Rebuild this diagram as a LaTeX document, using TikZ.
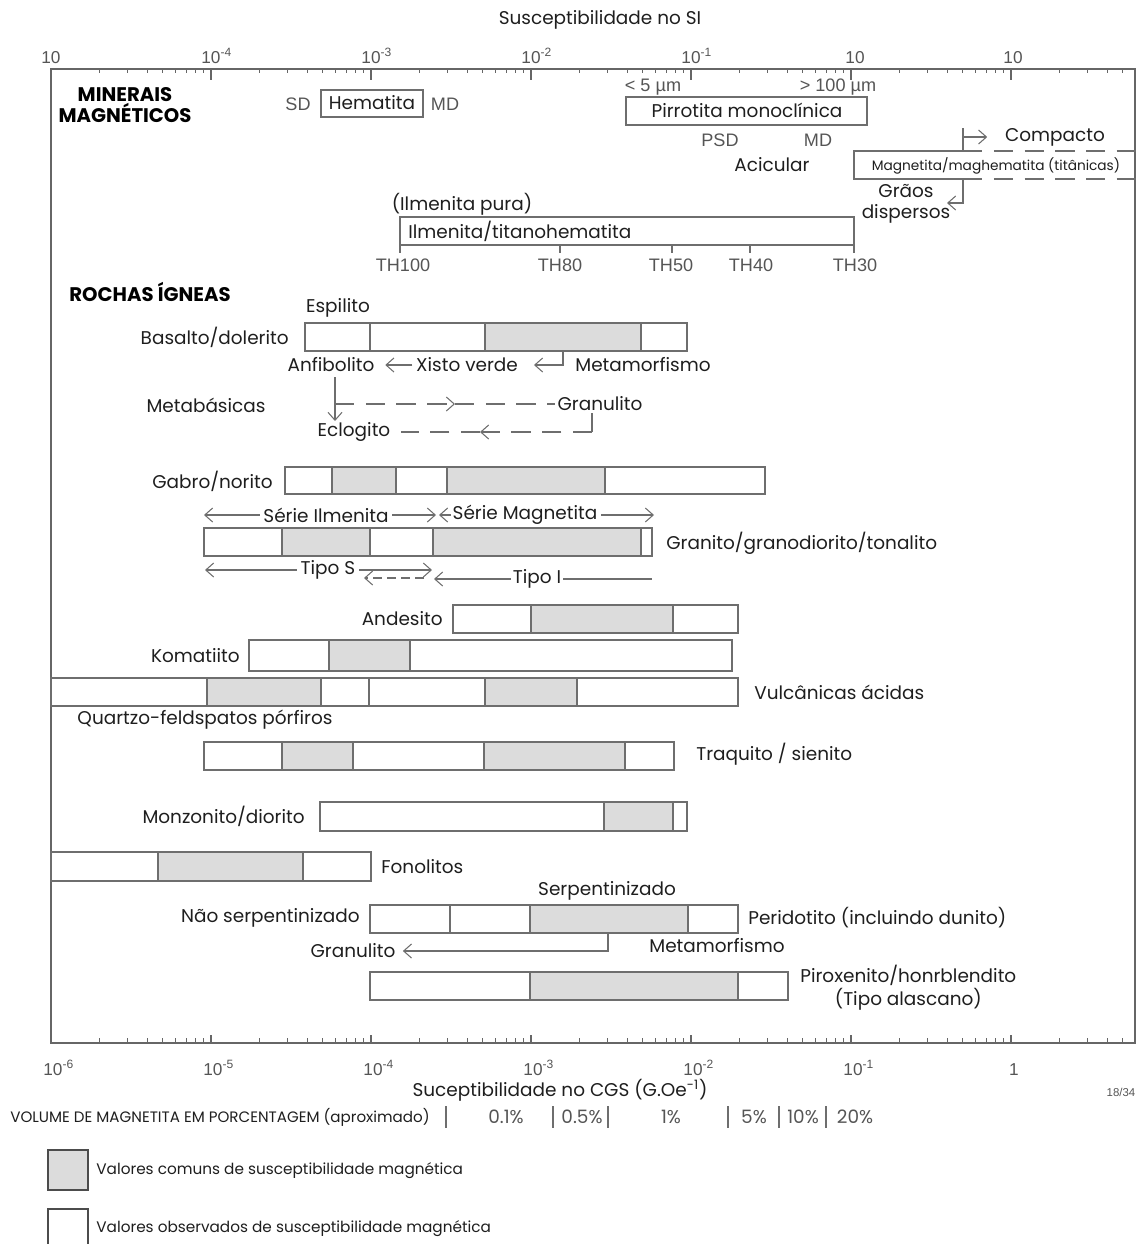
\documentclass[tikz,border=0pt]{standalone}
\usepackage{fontspec}
\setmainfont{Poppins}
\newfontfamily\helv{Liberation Sans}
\usetikzlibrary{arrows.meta, positioning}
\definecolor{ink}{HTML}{1E1E1E}
\definecolor{inkgray}{HTML}{555555}
\definecolor{barline}{HTML}{6E6E6E}
\definecolor{barfill}{HTML}{DCDCDC}

\begin{document}
\begin{tikzpicture}[x=0.02cm, y=-0.02cm,
  lbl/.style={font=\fontsize{10.5}{13}\selectfont, text=ink, inner sep=0pt},
  small/.style={font=\fontsize{7.8}{9}\selectfont, text=ink, inner sep=0pt},
  head/.style={font=\bfseries\fontsize{11.2}{11.5}\selectfont, text=black,
    align=center, inner sep=0pt},
  hv/.style={font=\helv\fontsize{10.3}{12}\selectfont, text=inkgray, inner sep=0pt},
  tick/.style={font=\helv\fontsize{9.8}{11}\selectfont, text=inkgray, inner sep=0pt},
  frame/.style={draw=black!60, line width=0.7pt},
  bar/.style={draw=barline, line width=0.6pt},
  common/.style={fill=barfill},
  conn/.style={draw=barline, line width=0.6pt},
  arr/.style={conn, -{Straight Barb[length=4.5pt, width=8pt]}},
  dline/.style={conn, dash pattern=on 11pt off 6.5pt},
  dshort/.style={conn, dash pattern=on 5pt off 3pt}
]
  \useasboundingbox (0,0) rectangle (1143,1244);

  % Axes
  \node[lbl] (si) at (600,20) {Susceptibilidade no SI};
  \draw[frame] (51,1043) -- (51,69) -- (1135,69) -- (1135,1043) -- cycle;
  \foreach \d in {0,...,5}{
    \draw[frame] (51+160*\d,69) -- ++(0,11);
    \draw[frame] (51+160*\d,1043) -- ++(0,-8);
    \foreach \k in {2,...,9}{
      \draw[frame] ({51+160*\d+160*log10(\k)},69) -- ++(0,4);
      \draw[frame] ({51+160*\d+160*log10(\k)},1043) -- ++(0,-5);
    }
  }
  \draw[frame] (1011,69) -- ++(0,11);
  \draw[frame] (1011,1043) -- ++(0,-8);
  \foreach \k in {2,...,6}{
    \draw[frame] ({1011+160*log10(\k)},69) -- ++(0,4);
    \draw[frame] ({1011+160*log10(\k)},1043) -- ++(0,-5);
  }
  \node[tick, anchor=base] (si0) at (51,63) {10};
  \node[tick, anchor=base] (si1) at (211,63) {10\rlap{\textsuperscript{-4}}};
  \node[tick, anchor=base] (si2) at (371,63) {10\rlap{\textsuperscript{-3}}};
  \node[tick, anchor=base] (si3) at (531,63) {10\rlap{\textsuperscript{-2}}};
  \node[tick, anchor=base] (si4) at (691,63) {10\rlap{\textsuperscript{-1}}};
  \node[tick, anchor=base] (si5) at (855,63) {10};
  \node[tick, anchor=base] (si6) at (1013,63) {10};
  \node[tick, anchor=base] (cgs0) at (53,1075) {10\rlap{\textsuperscript{-6}}};
  \node[tick, anchor=base] (cgs1) at (213,1075) {10\rlap{\textsuperscript{-5}}};
  \node[tick, anchor=base] (cgs2) at (373,1075) {10\rlap{\textsuperscript{-4}}};
  \node[tick, anchor=base] (cgs3) at (533,1075) {10\rlap{\textsuperscript{-3}}};
  \node[tick, anchor=base] (cgs4) at (693,1075) {10\rlap{\textsuperscript{-2}}};
  \node[tick, anchor=base] (cgs5) at (853,1075) {10\rlap{\textsuperscript{-1}}};
  \node[tick, anchor=base] (cgs6) at (1014,1075) {1};
  \node[lbl] (cgs) at (560,1090) {Suceptibilidade no CGS (G.Oe\textsuperscript{-1})};
  \node[tick, font=\helv\fontsize{6.5}{8}\selectfont] (page) at (1121,1092) {18/34};

  % Minerais magneticos
  \node[head] (minerais) at (125,105) {MINERAIS\\MAGNÉTICOS};
  \draw[bar] (321,90) rectangle (423,117);
  \node[lbl] (hem) at (372,103) {Hematita};
  \node[hv] (hsd) at (298,104) {SD};
  \node[hv] (hmd) at (445,104) {MD};

  \node[hv] (p5) at (653,87) {< 5 µm};
  \node[hv] (p100) at (838,87) {> 100 µm};
  \draw[bar] (626,97) rectangle (867,125);
  \node[lbl] (pirr) at (747,110) {Pirrotita monoclínica};
  \node[hv] (psd) at (720,140) {PSD};
  \node[hv] (pmd) at (818,140) {MD};
  \node[lbl] (acic) at (772,165) {Acicular};

  \draw[bar] (963,151) -- (854,151) -- (854,179) -- (963,179);
  \draw[dline] (963,151) -- (1143,151);
  \draw[dline] (963,179) -- (1143,179);
  \node[small] (magn) at (996,166) {Magnetita/maghematita (titânicas)};
  \node[lbl] (compacto) at (1055,137) {Compacto};
  \coordinate (cpbot) at (963,151);
  \coordinate (cptop) at (963,128);
  \coordinate (cpmid) at (963,137);
  \draw[conn] (cpbot) -- (cptop);
  \draw[arr] (cpmid) -- ([xshift=-10pt]compacto.west);
  \node[lbl] (graos) at (906,191) {Grãos};
  \node[lbl] (dispersos) at (906,214) {dispersos};
  \coordinate (gdtop) at (963,179);
  \coordinate (gdend) at (947,203);
  \draw[arr] (gdtop) |- (gdend);

  \node[lbl] (ilmp) at (462,204) {(Ilmenita pura)};
  \draw[bar] (400,217) rectangle (854,245);
  \node[lbl, anchor=west] (ilm) at (408,231) {Ilmenita/titanohematita};
  \foreach \x in {400,560,672,750,854}
    \draw[conn] (\x,245) -- (\x,253);
  \node[hv] (th100) at (403,265) {TH100};
  \node[hv] (th80) at (560,265) {TH80};
  \node[hv] (th50) at (671,265) {TH50};
  \node[hv] (th40) at (751,265) {TH40};
  \node[hv] (th30) at (855,265) {TH30};

  % Rochas igneas
  \node[head] (rochas) at (150,292) {ROCHAS ÍGNEAS};

  % Basalto/dolerito
  \fill[common] (485,323) rectangle (641,351);
  \draw[bar] (305,323) rectangle (687,351);
  \foreach \x in {370,485,641} \draw[bar] (\x,323) -- (\x,351);
  \node[lbl] (espilito) at (338,308) {Espilito};
  \node[lbl, anchor=east] (basalto) at (289,337) {Basalto/dolerito};
  \node[lbl] (anfib) at (331,365) {Anfibolito};
  \node[lbl] (xisto) at (467,365) {Xisto verde};
  \node[lbl] (meta1) at (643,365) {Metamorfismo};
  \coordinate (bmeta) at (563,351);
  \draw[arr] (bmeta) |- ([xshift=9pt]xisto.east);
  \draw[arr] ([xshift=-2pt]xisto.west) -- ([xshift=6pt]anfib.east);
  \node[lbl] (metab) at (206,405) {Metabásicas};
  \node[lbl] (granul1) at (600,404) {Granulito};
  \node[lbl] (eclog) at (354,432) {Eclogito};
  \coordinate (anfdown) at (335,377);
  \coordinate (anfmid) at (335,404);
  \coordinate (anfarr) at (455,404);
  \draw[arr] (anfdown) -- (335,421);
  \draw[dline, arr] (anfmid) -- (anfarr);
  \draw[dline] (anfarr) -- ([xshift=-1pt]granul1.west);
  \coordinate (grtop) at (592,413);
  \coordinate (grbot) at (592,432);
  \coordinate (grarr) at (480,432);
  \draw[conn] (grtop) -- (grbot);
  \draw[dline, arr] (grbot) -- (grarr);
  \draw[dline] (grarr) -- ([xshift=6pt]eclog.east);

  % Gabro/norito
  \fill[common] (332,467) rectangle (396,494);
  \fill[common] (447,467) rectangle (605,494);
  \draw[bar] (285,467) rectangle (765,494);
  \foreach \x in {332,396,447,605} \draw[bar] (\x,467) -- (\x,494);
  \node[lbl, anchor=east] (gabro) at (273,481) {Gabro/norito};

  % Granito/granodiorito/tonalito
  \node[lbl] (silm) at (326,515) {Série Ilmenita};
  \node[lbl] (smag) at (525,515) {Série Magnetita};
  \draw[arr] ([xshift=-2pt]silm.west) -- (204,515);
  \draw[arr] ([xshift=2pt]silm.east) -- (436,515);
  \draw[arr] ([xshift=-1pt]smag.west) -- (439,515);
  \draw[arr] ([xshift=2pt]smag.east) -- (654,515);
  \fill[common] (282,528) rectangle (370,556);
  \fill[common] (433,528) rectangle (641,556);
  \draw[bar] (204,528) rectangle (652,556);
  \foreach \x in {282,370,433,641} \draw[bar] (\x,528) -- (\x,556);
  \node[lbl, anchor=west] (granito) at (666,543) {Granito/granodiorito/tonalito};
  \node[lbl] (tipos) at (328,570) {Tipo S};
  \node[lbl] (tipoi) at (537,579) {Tipo I};
  \draw[arr] ([xshift=-2pt]tipos.west) -- (205,570);
  \draw[arr] ([xshift=2pt]tipos.east) -- (432,570);
  \coordinate (tsdash) at (424,578);
  \draw[dshort, arr] (tsdash) -- (364,578);
  \draw[arr] ([xshift=-1pt]tipoi.west) -- (434,579);
  \draw[conn] ([xshift=1pt]tipoi.east) -- (652,579);

  % Andesito
  \fill[common] (531,605) rectangle (673,633);
  \draw[bar] (453,605) rectangle (738,633);
  \foreach \x in {531,673} \draw[bar] (\x,605) -- (\x,633);
  \node[lbl, anchor=east] (andes) at (443,619) {Andesito};

  % Komatiito
  \fill[common] (329,640) rectangle (410,671);
  \draw[bar] (249,640) rectangle (732,671);
  \foreach \x in {329,410} \draw[bar] (\x,640) -- (\x,671);
  \node[lbl, anchor=east] (komat) at (240,656) {Komatiito};

  % Vulcanicas acidas
  \fill[common] (207,678) rectangle (321,706);
  \fill[common] (485,678) rectangle (577,706);
  \draw[bar] (51,678) rectangle (738,706);
  \foreach \x in {207,321,369,485,577} \draw[bar] (\x,678) -- (\x,706);
  \node[lbl, anchor=west] (vulc) at (754,692) {Vulcânicas ácidas};
  \node[lbl] (quartzo) at (205,720) {Quartzo-feldspatos pórfiros};

  % Traquito / sienito
  \fill[common] (282,742) rectangle (353,770);
  \fill[common] (484,742) rectangle (625,770);
  \draw[bar] (204,742) rectangle (674,770);
  \foreach \x in {282,353,484,625} \draw[bar] (\x,742) -- (\x,770);
  \node[lbl, anchor=west] (traq) at (696,754) {Traquito / sienito};

  % Monzonito/diorito
  \fill[common] (604,802) rectangle (673,831);
  \draw[bar] (320,802) rectangle (687,831);
  \foreach \x in {604,673} \draw[bar] (\x,802) -- (\x,831);
  \node[lbl, anchor=east] (monz) at (305,816) {Monzonito/diorito};

  % Fonolitos
  \fill[common] (158,852) rectangle (303,881);
  \draw[bar] (51,852) rectangle (371,881);
  \foreach \x in {158,303} \draw[bar] (\x,852) -- (\x,881);
  \node[lbl, anchor=west] (fono) at (381,867) {Fonolitos};

  % Peridotito
  \node[lbl] (serp) at (607,891) {Serpentinizado};
  \fill[common] (530,905) rectangle (688,933);
  \draw[bar] (370,905) rectangle (738,933);
  \foreach \x in {450,530,688} \draw[bar] (\x,905) -- (\x,933);
  \node[lbl, anchor=east] (naoserp) at (360,918) {Não serpentinizado};
  \node[lbl, anchor=west] (perid) at (748,918) {Peridotito (incluindo dunito)};
  \node[lbl] (granul2) at (353,951) {Granulito};
  \node[lbl] (meta2) at (717,946) {Metamorfismo};
  \coordinate (pmeta) at (608,933);
  \draw[arr] (pmeta) |- ([xshift=4pt]granul2.east);

  % Piroxenito
  \fill[common] (530,972) rectangle (738,1000);
  \draw[bar] (370,972) rectangle (788,1000);
  \foreach \x in {530,738} \draw[bar] (\x,972) -- (\x,1000);
  \node[lbl, anchor=west, align=center] (pirox) at (800,988)
    {Piroxenito/honrblendito\\(Tipo alascano)};

  % Volume de magnetita
  \node[small, font=\fontsize{8.6}{10}\selectfont, anchor=west] (vol) at (10,1117)
    {VOLUME DE MAGNETITA EM PORCENTAGEM (aproximado)};
  \foreach \x in {446,553,608,728,779,826}
    \draw[conn] (\x,1106) -- (\x,1128);
  \node[lbl, text=inkgray] (v01) at (506,1117) {0.1\%};
  \node[lbl, text=inkgray] (v05) at (582,1117) {0.5\%};
  \node[lbl, text=inkgray] (v1) at (671,1117) {1\%};
  \node[lbl, text=inkgray] (v5) at (754,1117) {5\%};
  \node[lbl, text=inkgray] (v10) at (803,1117) {10\%};
  \node[lbl, text=inkgray] (v20) at (855,1117) {20\%};

  % Legenda
  \draw[common, draw=black!70, line width=1.1pt] (48,1150) rectangle (88,1190);
  \node[small, font=\fontsize{8.7}{11}\selectfont, anchor=west] (legc) at (96,1171)
    {Valores comuns de susceptibilidade magnética};
  \draw[draw=black!70, line width=1.1pt] (48,1250) -- (48,1209) -- (88,1209) -- (88,1250);
  \node[small, font=\fontsize{8.7}{11}\selectfont, anchor=west] (lego) at (96,1229)
    {Valores observados de susceptibilidade magnética};
\end{tikzpicture}
\end{document}
